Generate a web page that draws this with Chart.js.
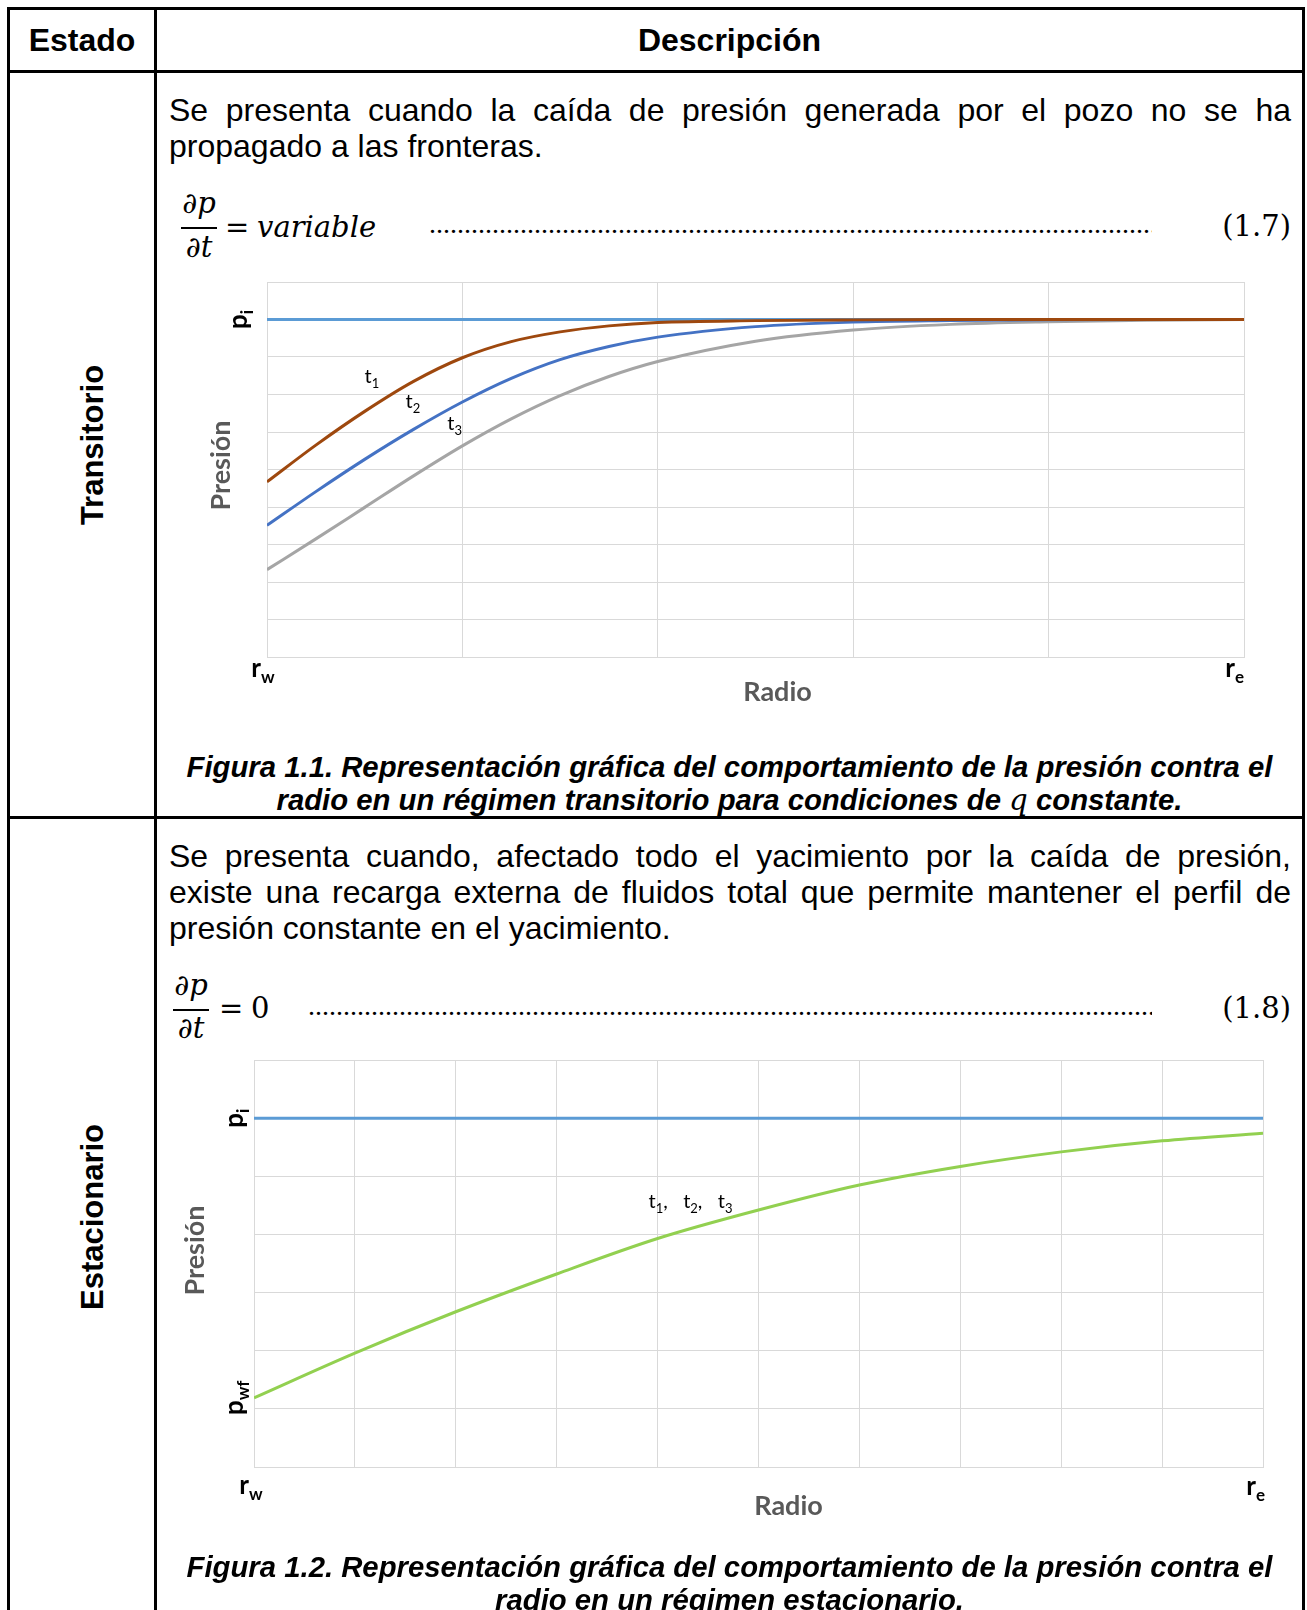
<!DOCTYPE html>
<html lang="es">
<head>
<meta charset="utf-8">
<title>Transitorio / Estacionario</title>
<script src="https://cdn.jsdelivr.net/npm/chart.js@4.4.1/dist/chart.umd.min.js"></script>
<style>
  html, body { margin: 0; padding: 0; background: #fff; }
  #page { position: relative; width: 1307px; height: 1610px; overflow: hidden;
          font-family: "Liberation Sans", Arial, sans-serif; color: #000; }
  .rule { position: absolute; background: #000; }
  .abs { position: absolute; white-space: nowrap; }
  .para { position: absolute; left: 169px; width: 1122px; font-size: 32px; line-height: 36px; }
  .para .j { text-align: justify; text-align-last: justify; }
  .head { font-size: 32px; font-weight: bold; line-height: 36px; text-align: center; top: 22px; }
  .state { font-size: 31px; font-weight: bold; line-height: 1; left: 92px;
           transform: translate(-50%, -50%) rotate(-90deg); }
  .cap { position: absolute; left: 157px; width: 1145px; text-align: center;
         font-size: 29.3px; font-weight: bold; font-style: italic; line-height: 33px; }
  .cap .q { font-family: "DejaVu Serif", serif; font-weight: normal; }
  .m { font-family: "DejaVu Serif", serif; font-size: 29px; line-height: 34px; }
  .mi { font-style: italic; }
  .num { text-align: center; width: 36px; }
  .bar { position: absolute; height: 2px; background: #000; }
  .dots { font-family: "Liberation Serif", serif; font-size: 28px;
          line-height: 31px; overflow: hidden; }
  canvas { position: absolute; }
</style>
</head>
<body>
<div id="page">
  <!-- table rules -->
  <div class="rule" style="left:7px; top:7px; width:1298px; height:3px;"></div>
  <div class="rule" style="left:7px; top:7px; width:3px; height:1610px;"></div>
  <div class="rule" style="left:1302px; top:7px; width:3px; height:1610px;"></div>
  <div class="rule" style="left:154px; top:7px; width:3px; height:1610px;"></div>
  <div class="rule" style="left:7px; top:70px; width:1298px; height:3px;"></div>
  <div class="rule" style="left:7px; top:816px; width:1298px; height:3px;"></div>

  <!-- header -->
  <div class="abs head" style="left:10px; width:144px;">Estado</div>
  <div class="abs head" style="left:157px; width:1145px;">Descripción</div>

  <!-- row 1 -->
  <div class="abs state" style="top:445px;">Transitorio</div>
  <div class="para" style="top:92px;">
    <div class="j">Se presenta cuando la caída de presión generada por el pozo no se ha</div>
    <div>propagado a las fronteras.</div>
  </div>
  <div class="abs m mi num" style="left:181px; top:186px;">∂p</div>
  <div class="bar" style="left:181px; top:226.5px; width:36px;"></div>
  <div class="abs m mi num" style="left:181px; top:230px;">∂t</div>
  <div class="abs m" style="left:225px; top:209.7px;">=</div>
  <div class="abs m mi" style="left:257px; top:209.7px;">variable</div>
  <div class="abs dots" id="dots1" style="left:429px; top:208px; width:723px;"></div>
  <div class="abs m" style="right:16px; top:209px;">(1.7)</div>
  <canvas id="chartTrans" width="1140" height="460" style="left:160px; top:262px;"></canvas>
  <div class="cap" style="top:749.5px;">
    <div>Figura 1.1. Representación gráfica del comportamiento de la presión contra el</div>
    <div>radio en un régimen transitorio para condiciones de <span class="q">q</span> constante.</div>
  </div>

  <!-- row 2 -->
  <div class="abs state" style="top:1217px;">Estacionario</div>
  <div class="para" style="top:837.6px;">
    <div class="j">Se presenta cuando, afectado todo el yacimiento por la caída de presión,</div>
    <div class="j">existe una recarga externa de fluidos total que permite mantener el perfil de</div>
    <div>presión constante en el yacimiento.</div>
  </div>
  <div class="abs m mi num" style="left:173px; top:968px;">∂p</div>
  <div class="bar" style="left:173px; top:1008.5px; width:36px;"></div>
  <div class="abs m mi num" style="left:173px; top:1011px;">∂t</div>
  <div class="abs m" style="left:219px; top:991px;">=</div>
  <div class="abs m" style="left:251px; top:991px;">0</div>
  <div class="abs dots" id="dots2" style="left:308px; top:990px; width:844px;"></div>
  <div class="abs m" style="right:16px; top:991px;">(1.8)</div>
  <canvas id="chartEst" width="1140" height="560" style="left:160px; top:1040px;"></canvas>
  <div class="cap" style="top:1549.5px;">
    <div>Figura 1.2. Representación gráfica del comportamiento de la presión contra el</div>
    <div>radio en un régimen estacionario.</div>
  </div>
</div>

<script>
// DATA - transitorio (radio in grid units rw..re, presion in grid units)
const radioTrans = [0, 0.25, 0.5, 0.75, 1, 1.25, 1.5, 1.75, 2, 2.5, 3, 3.5, 4, 4.5, 5];
const presionT1 = [4.67, 5.65, 6.55, 7.35, 7.98, 8.41, 8.67, 8.83, 8.92, 8.97, 8.99, 9.0, 9.0, 9.0, 9.0];
const presionT2 = [3.51, 4.41, 5.27, 6.07, 6.80, 7.43, 7.93, 8.28, 8.53, 8.81, 8.93, 8.97, 8.99, 9.0, 9.0];
const presionT3 = [2.33, 3.15, 3.99, 4.83, 5.63, 6.35, 6.97, 7.48, 7.88, 8.42, 8.72, 8.87, 8.94, 8.98, 9.0];
const piTrans = 9;

// DATA - estacionario
const radioEst = [0, 1, 2, 3, 4, 5, 6, 7, 8, 9, 10];
const presionEst = [1.19, 1.96, 2.67, 3.32, 3.93, 4.42, 4.85, 5.17, 5.42, 5.61, 5.74];
const piEst = 6;

// tick and curve labels: [base, subscript]
const yTickTrans = [['p', 'i']];
const yTickEst = [['p', 'i'], ['p', 'wf']];
const xTickLabels = [['r', 'w'], ['r', 'e']];
const curveNames = [['t', '1'], ['t', '2'], ['t', '3']];

// where the curve names sit (radio, presion of baseline)
const transNamePos = [[0.537, 7.30], [0.747, 6.63], [0.96, 6.05]];
const estNamePos = [3.91, 4.45];

// leader dots of the equations
document.getElementById('dots1').textContent = '.'.repeat(120);
document.getElementById('dots2').textContent = '.'.repeat(140);

// CHART HELPERS
const GRID = '#D9D9D9';
const F_BOLD = 'bold 26px Lato', F_BOLD_SUB = 'bold 17px Lato';
const F_TITLE = 'bold 27px Lato';
const F_T = '20px Lato', F_T_SUB = '13px Lato';

const pts = (xs, ys) => xs.map((x, i) => ({ x: x, y: ys[i] }));
const flat = (xs, v) => [{ x: xs[0], y: v }, { x: xs[xs.length - 1], y: v }];

function lineSet(data, color, smooth) {
    return {
        data: data, borderColor: color, borderWidth: 3, pointRadius: 0, fill: false,
        cubicInterpolationMode: smooth ? 'monotone' : 'default', tension: 0
    };
}

function axis(max) {
    return {
        type: 'linear', min: 0, max: max,
        ticks: { display: false, stepSize: 1 },
        grid: { color: GRID, lineWidth: 1, drawTicks: false },
        border: { color: GRID, width: 1 }
    };
}

function chartOptions(xMax, yMax, padding) {
    return {
        responsive: false, animation: false, events: [],
        layout: { padding: padding },
        plugins: { legend: { display: false }, tooltip: { enabled: false } },
        scales: { x: axis(xMax), y: axis(yMax) }
    };
}

// draws text made of parts (main + subscript) in a row
function rich(ctx, parts, x, y, align) {
    let w = 0;
    parts.forEach(p => { ctx.font = p.font; w += ctx.measureText(p.text).width; });
    let cx = align === 'center' ? x - w / 2 : (align === 'right' ? x - w : x);
    parts.forEach(p => {
        ctx.font = p.font;
        ctx.fillText(p.text, cx, y + (p.dy || 0));
        cx += ctx.measureText(p.text).width;
    });
}
function subLabel(pair, font, subFont, dy) {
    return [{ text: pair[0], font: font }, { text: pair[1], font: subFont, dy: dy }];
}
function rotated(ctx, x, y, fn) {
    ctx.save(); ctx.translate(x, y); ctx.rotate(-Math.PI / 2); fn(); ctx.restore();
}

// TRANSITORIO CHART
const transLabels = {
    id: 'transLabels',
    afterDraw(chart) {
        const ctx = chart.ctx, a = chart.chartArea, x = chart.scales.x, y = chart.scales.y;
        ctx.save();
        ctx.textAlign = 'left'; ctx.textBaseline = 'alphabetic'; ctx.fillStyle = '#000';
        rotated(ctx, a.left - 20, y.getPixelForValue(piTrans),
            () => rich(ctx, subLabel(yTickTrans[0], F_BOLD, F_BOLD_SUB, 6), 0, 0, 'center'));
        rich(ctx, subLabel(xTickLabels[0], F_BOLD, F_BOLD_SUB, 6), a.left - 4, a.bottom + 20, 'center');
        rich(ctx, subLabel(xTickLabels[1], F_BOLD, F_BOLD_SUB, 6), a.right, a.bottom + 20, 'right');
        curveNames.forEach((n, i) => rich(ctx, subLabel(n, F_T, F_T_SUB, 5),
            x.getPixelForValue(transNamePos[i][0]), y.getPixelForValue(transNamePos[i][1]), 'center'));
        ctx.fillStyle = '#595959';
        rich(ctx, [{ text: 'Radio', font: F_TITLE }], (a.left + a.right) / 2 + 22, a.bottom + 44, 'center');
        rotated(ctx, a.left - 37, (a.top + a.bottom) / 2 - 4,
            () => rich(ctx, [{ text: 'Presión', font: F_TITLE }], 0, 0, 'center'));
        ctx.restore();
    }
};

new Chart(document.getElementById('chartTrans'), {
    type: 'line',
    data: {
        datasets: [
            lineSet(pts(radioTrans, presionT1), '#9E480E', true),
            lineSet(pts(radioTrans, presionT2), '#4472C4', true),
            lineSet(pts(radioTrans, presionT3), '#A5A5A5', true),
            lineSet(flat(radioTrans, piTrans), '#5B9BD5', false)
        ]
    },
    options: chartOptions(5, 10, { left: 107, right: 56, top: 20, bottom: 65 }),
    plugins: [transLabels]
});

// ESTACIONARIO CHART
const estLabels = {
    id: 'estLabels',
    afterDraw(chart) {
        const ctx = chart.ctx, a = chart.chartArea, x = chart.scales.x, y = chart.scales.y;
        ctx.save();
        ctx.textAlign = 'left'; ctx.textBaseline = 'alphabetic'; ctx.fillStyle = '#000';
        rotated(ctx, a.left - 11, y.getPixelForValue(piEst),
            () => rich(ctx, subLabel(yTickEst[0], F_BOLD, F_BOLD_SUB, 6), 0, 0, 'center'));
        rotated(ctx, a.left - 11, y.getPixelForValue(presionEst[0]),
            () => rich(ctx, subLabel(yTickEst[1], F_BOLD, F_BOLD_SUB, 6), 0, 0, 'center'));
        rich(ctx, subLabel(xTickLabels[0], F_BOLD, F_BOLD_SUB, 6), a.left - 3, a.bottom + 27, 'center');
        rich(ctx, subLabel(xTickLabels[1], F_BOLD, F_BOLD_SUB, 6), a.right + 2, a.bottom + 28, 'right');
        const parts = [];
        curveNames.forEach((n, i) => {
            parts.push(...subLabel(n, F_T, F_T_SUB, 5));
            if (i < curveNames.length - 1) parts.push({ text: ',   ', font: F_T });
        });
        rich(ctx, parts, x.getPixelForValue(estNamePos[0]), y.getPixelForValue(estNamePos[1]), 'left');
        ctx.fillStyle = '#595959';
        rich(ctx, [{ text: 'Radio', font: F_TITLE }], (a.left + a.right) / 2 + 30, a.bottom + 48, 'center');
        rotated(ctx, a.left - 50, (a.top + a.bottom) / 2 - 13,
            () => rich(ctx, [{ text: 'Presión', font: F_TITLE }], 0, 0, 'center'));
        ctx.restore();
    }
};

new Chart(document.getElementById('chartEst'), {
    type: 'line',
    data: {
        datasets: [
            lineSet(pts(radioEst, presionEst), '#92D050', true),
            lineSet(flat(radioEst, piEst), '#5B9BD5', false)
        ]
    },
    options: chartOptions(10, 7, { left: 94, right: 37, top: 20, bottom: 133 }),
    plugins: [estLabels]
});
</script>
</body>
</html>
